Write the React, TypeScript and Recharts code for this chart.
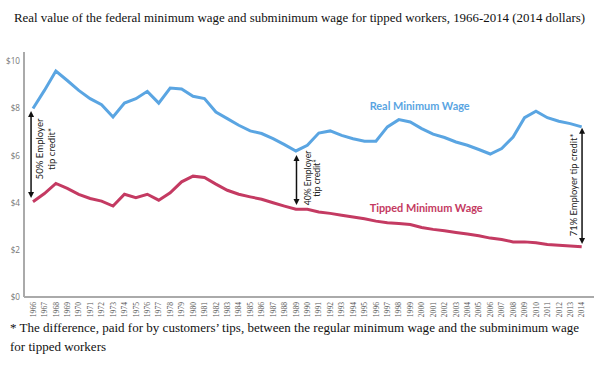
import React from 'react';
import { LineChart, Line, XAxis, YAxis, ReferenceLine, ReferenceDot } from 'recharts';

const years: number[] = [
  1966, 1967, 1968, 1969, 1970, 1971, 1972, 1973, 1974, 1975, 1976, 1977, 1978, 1979, 1980,
  1981, 1982, 1983, 1984, 1985, 1986, 1987, 1988, 1989, 1990, 1991, 1992, 1993, 1994, 1995,
  1996, 1997, 1998, 1999, 2000, 2001, 2002, 2003, 2004, 2005, 2006, 2007, 2008, 2009, 2010,
  2011, 2012, 2013, 2014,
];

const realMinimumWage: number[] = [
  8.0, 8.77, 9.59, 9.19, 8.77, 8.42, 8.16, 7.64, 8.23, 8.42, 8.73, 8.23, 8.87, 8.83, 8.52,
  8.42, 7.85, 7.57, 7.29, 7.05, 6.94, 6.72, 6.47, 6.2, 6.44, 6.96, 7.05, 6.86, 6.72, 6.61,
  6.61, 7.22, 7.53, 7.43, 7.15, 6.91, 6.77, 6.58, 6.44, 6.26, 6.07, 6.3, 6.79, 7.61, 7.89,
  7.61, 7.46, 7.36, 7.22,
];

const tippedMinimumWage: number[] = [
  4.04, 4.39, 4.82, 4.61, 4.36, 4.18, 4.07, 3.86, 4.36, 4.22, 4.36, 4.11, 4.42, 4.89, 5.13,
  5.07, 4.79, 4.53, 4.36, 4.25, 4.15, 4.0, 3.86, 3.73, 3.72, 3.61, 3.55, 3.47, 3.4, 3.32,
  3.22, 3.15, 3.12, 3.08, 2.95, 2.87, 2.81, 2.74, 2.67, 2.6, 2.5, 2.44, 2.34, 2.34, 2.3,
  2.23, 2.2, 2.17, 2.13,
];

const yTicks: number[] = [0, 2, 4, 6, 8, 10];

const titleText =
  'Real value of the federal minimum wage and subminimum wage for tipped workers, 1966-2014 (2014 dollars)';
const footnoteLines: string[] = [
  '* The difference, paid for by customers\u2019 tips, between the regular minimum wage and the subminimum wage',
  'for tipped workers',
];

type Note = { year: number; top: number; bottom: number; lines: string[] };
const tipCreditNotes: Note[] = [
  { year: 1965.83, top: 7.9, bottom: 4.2, lines: ['50% Employer', 'tip credit*'] },
  { year: 1989.05, top: 6.03, bottom: 3.91, lines: ['40% Employer', 'tip credit*'] },
  { year: 2014.03, top: 7.18, bottom: 2.25, lines: ['71% Employer tip credit*'] },
];

const noteStyles = [
  { dx: [8, 20.5], dy: -5.5, size: 9.6 },
  { dx: [11.5, 20.5], dy: -2, size: 8.6 },
  { dx: [-9], dy: -1, size: 9.4 },
];

const seriesLabels = [
  { name: 'Real Minimum Wage', year: 1995.45, value: 8.15, color: '#5aa5e2', width: 100 },
  { name: 'Tipped Minimum Wage', year: 1995.45, value: 3.78, color: '#c43a62', width: 113 },
];

const data = years.map((y, i) => ({ year: y, real: realMinimumWage[i], tipped: tippedMinimumWage[i] }));

const BLUE = '#5aa5e2';
const RED = '#c43a62';

const XTick = (props: any) => {
  const { x, y, payload } = props;
  return (
    <text
      transform={`translate(${x},${y + 5}) rotate(-90)`}
      textAnchor="end"
      dy="0.35em"
      fontSize={7.6}
      fontFamily="'Liberation Serif', serif"
      fill="#555"
    >
      {payload.value}
    </text>
  );
};

const YTick = (props: any) => {
  const { y, payload } = props;
  return (
    <text x={20} y={y} dy="0.35em" textAnchor="end" fontSize={8.2} fontFamily="'Open Sans', sans-serif" fill="#777">
      {'$' + payload.value}
    </text>
  );
};

const makeArrow = (idx: number) => (p: any) => {
  const { x1, y1, x2, y2 } = p;
  const note = tipCreditNotes[idx];
  const st = noteStyles[idx];
  const x = x1;
  const top = Math.min(y1, y2);
  const bot = Math.max(y1, y2);
  const h = 6;
  const w = 3;
  const cy = (top + bot) / 2 + st.dy;
  return (
    <g>
      <line x1={x} y1={top + h - 1} x2={x} y2={bot - h + 1} stroke="#111" strokeWidth={1.5} />
      <polygon points={`${x},${top} ${x - w},${top + h} ${x + w},${top + h}`} fill="#111" />
      <polygon points={`${x},${bot} ${x - w},${bot - h} ${x + w},${bot - h}`} fill="#111" />
      {note.lines.map((line, i) => (
        <text
          key={i}
          transform={`translate(${x + st.dx[i]},${cy}) rotate(-90)`}
          textAnchor="middle"
          dominantBaseline="central"
          fontSize={st.size}
          fontFamily="Lato, sans-serif"
          fill="#222"
        >
          {line}
        </text>
      ))}
    </g>
  );
};

const makeLabel = (idx: number) => (p: any) => {
  const { cx, cy } = p;
  const s = seriesLabels[idx];
  return (
    <text
      x={cx}
      y={cy}
      dominantBaseline="central"
      fontSize={11.5}
      fontWeight="bold"
      fontFamily="Lato, sans-serif"
      fill={s.color}
      textLength={s.width}
      lengthAdjust="spacingAndGlyphs"
    >
      {s.name}
    </text>
  );
};

const serif = "'Liberation Serif', serif";

export default function App() {
  return (
    <div style={{ position: 'absolute', left: 0, top: 0, width: 600, height: 373, background: '#fff', overflow: 'hidden' }}>
      <div style={{ position: 'absolute', left: 0, top: 0 }}>
        <LineChart width={600} height={373} data={data} margin={{ top: 52, right: 6, left: 0, bottom: 0 }}>
          <XAxis
            dataKey="year"
            type="number"
            domain={[1965.213, 2015.076]}
            allowDataOverflow
            ticks={years}
            interval={0}
            height={76}
            tickSize={0}
            tickMargin={0}
            tickLine={false}
            axisLine={{ stroke: '#aaaaaa', strokeWidth: 2 }}
            tick={<XTick />}
          />
          <YAxis
            domain={[0, 10.4]}
            ticks={yTicks}
            allowDataOverflow
            width={24}
            tickLine={false}
            axisLine={{ stroke: '#aaaaaa', strokeWidth: 2 }}
            tick={<YTick />}
          />
          <Line dataKey="real" stroke={BLUE} strokeWidth={3} dot={false} isAnimationActive={false} />
          <Line dataKey="tipped" stroke={RED} strokeWidth={3} dot={false} isAnimationActive={false} />
          {tipCreditNotes.map((n, i) => (
            <ReferenceLine
              key={'n' + i}
              segment={[
                { x: n.year, y: n.top },
                { x: n.year, y: n.bottom },
              ]}
              ifOverflow="visible"
              shape={makeArrow(i)}
            />
          ))}
          {seriesLabels.map((s, i) => (
            <ReferenceDot key={'l' + i} x={s.year} y={s.value} r={1} ifOverflow="visible" shape={makeLabel(i)} />
          ))}
        </LineChart>
      </div>
      <svg width={600} height={373} style={{ position: 'absolute', left: 0, top: 0, pointerEvents: 'none' }}>
        <text x={14} y={22} fontFamily={serif} fontSize={12.9} fill="#111" textLength={571} lengthAdjust="spacingAndGlyphs">
          {titleText}
        </text>
        <text x={10} y={331.5} fontFamily={serif} fontSize={13} fill="#111" textLength={569} lengthAdjust="spacingAndGlyphs">
          {footnoteLines[0]}
        </text>
        <text x={10} y={350.5} fontFamily={serif} fontSize={13} fill="#111">
          {footnoteLines[1]}
        </text>
      </svg>
    </div>
  );
}
